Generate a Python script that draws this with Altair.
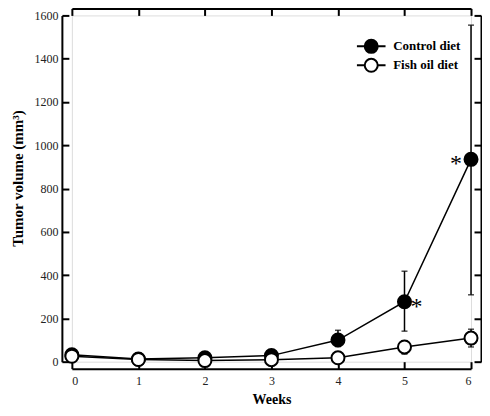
import altair as alt
import pandas as pd

weeks = [0, 1, 2, 3, 4, 5, 6]
control = [32, 12, 18, 28, 100, 277, 935]
fish = [25, 10, 5, 9, 18, 68, 109]

err_weeks_control = [4, 5, 6]
err_lo_control = [70, 141, 309]
err_hi_control = [145, 418, 1555]
err_weeks_fish = [5, 6]
err_lo_fish = [35, 68]
err_hi_fish = [97, 150]

star_weeks = [5, 6]
star_values = [277, 935]

x_ticks = [0, 1, 2, 3, 4, 5, 6]
y_ticks = [0, 200, 400, 600, 800, 1000, 1200, 1400, 1600]

series_names = ["Control diet", "Fish oil diet"]

W, H = 400, 347
FONT = "Liberation Serif"

df = pd.DataFrame(
    {"week": weeks * 2,
     "value": control + fish,
     "series": [series_names[0]] * len(weeks) + [series_names[1]] * len(weeks),
     "order": [0] * len(weeks) + [1] * len(weeks)}
)
err = pd.DataFrame(
    {"week": err_weeks_control + err_weeks_fish,
     "lo": err_lo_control + err_lo_fish,
     "hi": err_hi_control + err_hi_fish}
)
caps = pd.DataFrame(
    {"week": err["week"].tolist() * 2,
     "v": err["lo"].tolist() + err["hi"].tolist()}
)
stars = pd.DataFrame({"week": star_weeks, "value": star_values, "side": ["right", "left"]})

xs = alt.Scale(domain=[0, 6], nice=False, zero=False)
ys = alt.Scale(domain=[0, 1600], nice=False)

x_label_axis = alt.Axis(orient="bottom", offset=7, values=x_ticks, domain=False, ticks=False,
                        tickSize=0, labelPadding=7, title="Weeks", titlePadding=6,
                        labelFont=FONT, labelFontSize=12, labelColor="#222",
                        titleFont=FONT, titleFontSize=14, titleFontWeight="bold", titleColor="black",
                        grid=False)
y_label_axis = alt.Axis(orient="left", offset=10, values=y_ticks, format="d", domain=False, ticks=False,
                        tickSize=0, labelPadding=4, title="Tumor volume (mm³)", titlePadding=8,
                        titleY=163,
                        labelFont=FONT, labelFontSize=12, labelColor="#222",
                        titleFont=FONT, titleFontSize=15, titleFontWeight="bold", titleColor="black",
                        grid=False)

def line_axis(orient, offset, values):
    return alt.Axis(orient=orient, offset=offset, values=values, labels=False, title=None,
                    domain=True, domainColor="black", domainWidth=2,
                    ticks=True, tickSize=7, tickWidth=2, tickColor="black", grid=False)

lines = alt.Chart(df).mark_line(color="black", strokeWidth=1.5).encode(
    x=alt.X("week:Q", scale=xs, axis=x_label_axis),
    y=alt.Y("value:Q", scale=ys, axis=y_label_axis),
    detail="series:N",
)

rules = alt.Chart(err).mark_rule(color="black", strokeWidth=1.5).encode(
    x=alt.X("week:Q", scale=xs, axis=line_axis("top", -(H + 7), x_ticks)),
    y=alt.Y("lo:Q", scale=ys, axis=line_axis("right", -(W + 10), y_ticks)),
    y2="hi:Q",
)

cap_marks = alt.Chart(caps).mark_tick(color="black", orient="horizontal", size=6, thickness=1.5).encode(
    x=alt.X("week:Q", scale=xs, axis=line_axis("bottom", -(H + 7), x_ticks)),
    y=alt.Y("v:Q", scale=ys, axis=line_axis("left", -(W + 10), y_ticks)),
)

points = alt.Chart(df).mark_point(filled=True, size=170, stroke="black", strokeWidth=2, opacity=1).encode(
    x=alt.X("week:Q", scale=xs, axis=None),
    y=alt.Y("value:Q", scale=ys, axis=None),
    fill=alt.Fill("series:N", scale=alt.Scale(domain=series_names, range=["black", "white"]),
                  legend=alt.Legend(
                      title=None, orient="none", legendX=292, legendY=23,
                      symbolType="M-2.2,0L-1,0M1,0L2.2,0M-1,0A1,1 0 1,1 1,0A1,1 0 1,1 -1,0Z",
                      symbolSize=170, symbolStrokeColor="black", symbolStrokeWidth=2,
                      labelFont=FONT, labelFontSize=13, labelFontWeight="bold", labelColor="black",
                      labelOffset=14, rowPadding=-4)),
    order="order:Q",
)

star_r = alt.Chart(stars[stars.side == "right"]).mark_text(
    text="*", font=FONT, fontSize=24, dx=12, dy=5, color="black"
).encode(x=alt.X("week:Q", scale=xs, axis=None), y=alt.Y("value:Q", scale=ys, axis=None))
star_l = alt.Chart(stars[stars.side == "left"]).mark_text(
    text="*", font=FONT, fontSize=24, dx=-15, dy=5, color="black"
).encode(x=alt.X("week:Q", scale=xs, axis=None), y=alt.Y("value:Q", scale=ys, axis=None))

chart = alt.layer(lines, rules, cap_marks, points, star_r, star_l).resolve_axis(
    x="independent", y="independent"
).properties(
    width=W, height=H,
    autosize=alt.AutoSizeParams(type="none"),
    padding={"left": 64, "top": 7, "right": 11, "bottom": 46},
).configure_view(stroke=None).configure(background="white")

chart.save("out.html", embed_options={"renderer": "svg", "actions": False})
